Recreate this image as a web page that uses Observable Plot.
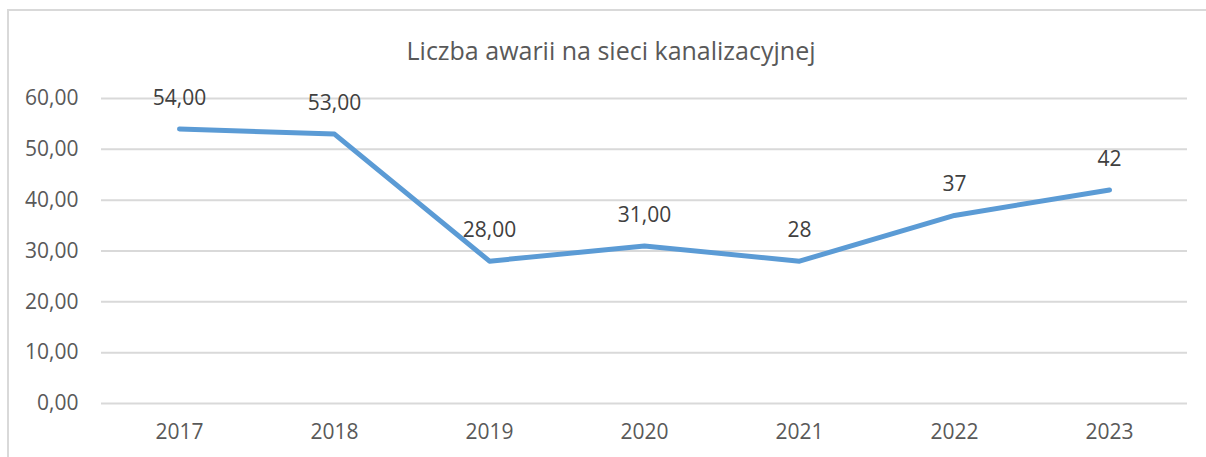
<!DOCTYPE html>
<html>
<head>
<meta charset="utf-8">
<script src="https://cdn.jsdelivr.net/npm/d3@7"></script>
<script src="https://cdn.jsdelivr.net/npm/@observablehq/plot@0.6"></script>
<style>
  html, body { margin: 0; padding: 0; background: #fff; }
  #wrap { position: relative; width: 1206px; height: 457px; overflow: hidden; font-family: "Open Sans", sans-serif; }
  #frame { position: absolute; left: 7px; top: 9px; width: 1220px; height: 470px; border: 2px solid #d9d9d9; box-sizing: border-box; }
  #title { position: absolute; left: 0; width: 1222px; top: 33px; line-height: 34px; text-align: center; font-size: 25px; color: #595959; }
  #chart { position: absolute; left: 0; top: 0; }
</style>
</head>
<body>
<div id="wrap">
  <div id="frame"></div>
  <div id="title">Liczba awarii na sieci kanalizacyjnej</div>
  <div id="chart"></div>
</div>
<script>
const years = ["2017", "2018", "2019", "2020", "2021", "2022", "2023"];
const values = [54, 53, 28, 31, 28, 37, 42];
const valueLabels = ["54,00", "53,00", "28,00", "31,00", "28", "37", "42"];
const yTicks = [0, 10, 20, 30, 40, 50, 60];

const data = years.map((y, i) => ({year: y, value: values[i], label: valueLabels[i]}));
const fmt = v => v.toFixed(2).replace(".", ",");

const chart = Plot.plot({
  width: 1206,
  height: 457,
  marginTop: 98,
  marginBottom: 54,
  marginLeft: 101,
  marginRight: 19,
  style: {fontFamily: "Open Sans, sans-serif", fontSize: "21px", color: "#595959", background: "transparent"},
  x: {type: "point", domain: years, padding: 0.5, label: null},
  y: {domain: [0, 60], label: null},
  marks: [
    Plot.gridY(yTicks, {stroke: "#d9d9d9", strokeOpacity: 1, strokeWidth: 2}),
    Plot.axisY(yTicks, {tickSize: 0, tickPadding: 23, tickFormat: fmt, fill: "#595959", fontSize: 21, label: null}),
    Plot.axisX(years, {tickSize: 0, tickPadding: 21, fill: "#595959", fontSize: 21, label: null}),
    Plot.line(data, {x: "year", y: "value", stroke: "#5b9bd5", strokeWidth: 5, strokeLinejoin: "round", strokeLinecap: "round"}),
    Plot.text(data, {x: "year", y: "value", text: "label", dy: -31, fill: "#404040", fontSize: 21})
  ]
});
document.getElementById("chart").appendChild(chart);
</script>
</body>
</html>
